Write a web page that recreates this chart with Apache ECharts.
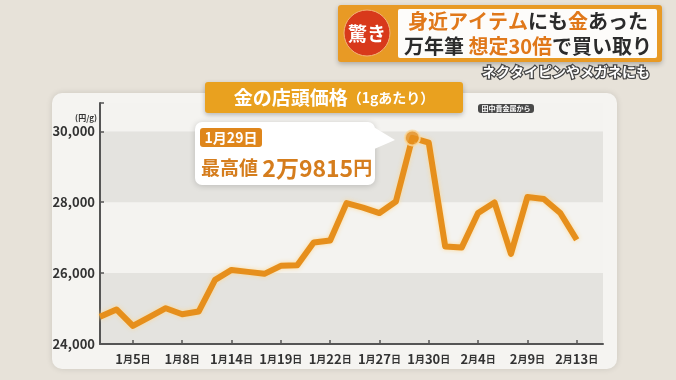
<!DOCTYPE html>
<html><head><meta charset="utf-8">
<script src="https://cdn.jsdelivr.net/npm/echarts@6/dist/echarts.min.js"></script>
<style>html,body{margin:0;padding:0;background:#e7e2d9;}#c{width:676px;height:380px;}</style>
</head><body><div id="c"></div>
<script>
const dates = ['12月29日','12月30日','1月5日','1月6日','1月7日','1月8日','1月9日','1月13日','1月14日','1月15日','1月16日','1月19日','1月20日','1月21日','1月22日','1月23日','1月26日','1月27日','1月28日','1月29日','1月30日','2月2日','2月3日','2月4日','2月5日','2月6日','2月9日','2月10日','2月12日','2月13日'];
const prices = [24770,24975,24510,24760,25010,24840,24915,25810,26090,26035,25980,26205,26220,26865,26920,27975,27845,27695,28020,29815,29680,26750,26720,27695,27995,26545,28145,28090,27695,26940];
const labelIdx = [2,5,8,11,14,17,20,23,26,29];
const yTicks = [24000,26000,28000,30000];
const peakIdx = 19;

const F = "'Noto Sans CJK JP','Noto Sans',sans-serif";
const chart = echarts.init(document.getElementById('c'), null, {renderer:'canvas'});
chart.setOption({
  backgroundColor:'#e7e2d9',
  animation:false,
  grid:{left:100,right:73,top:103,bottom:36},
  xAxis:{
    type:'value', min:0, max:30.6,
    axisLine:{show:true,lineStyle:{color:'#555',width:2}},
    axisTick:{show:true,inside:true,length:4,customValues:labelIdx,lineStyle:{color:'#555',width:1.5}},
    axisLabel:{customValues:labelIdx,margin:9,color:'#333',fontFamily:F,fontWeight:'bold',fontSize:12,
      formatter:v=>{const s=dates[Math.round(v)]||'';const m=s.match(/^(\d+)月(\d+)日$/);return m?'{n|'+m[1]+'}{s|月}{n|'+m[2]+'}{s|日}':s;},
      rich:{n:{fontFamily:F,fontWeight:'bold',fontSize:13,color:'#333'},s:{fontFamily:F,fontWeight:'bold',fontSize:10,color:'#333'}}},
    splitLine:{show:false}
  },
  yAxis:{
    type:'value', min:24000, max:30800, interval:2000,
    axisLine:{show:true,lineStyle:{color:'#555',width:2}},
    axisTick:{show:true,inside:true,length:4,lineStyle:{color:'#555',width:1.5}},
    axisLabel:{margin:5,color:'#333',fontFamily:F,fontWeight:'bold',fontSize:13,
      formatter:v=>yTicks.includes(v)?v.toLocaleString('en-US'):''},
    splitLine:{show:false},
    splitArea:{show:true,areaStyle:{color:['#e4e3df','#f4f3f0']}}
  },
  series:[
    {type:'line',data:dates.map((d,i)=>[i,prices[i]]),symbol:'none',z:3,
     lineStyle:{color:'#e68f1c',width:6,shadowColor:'rgba(255,215,140,0.9)',shadowBlur:4,join:'round'}},
    {type:'scatter',data:[[peakIdx,prices[peakIdx]]],symbol:'circle',symbolSize:15,z:4,
     itemStyle:{color:'#e68f1c',borderColor:'#f9dca6',borderWidth:2}}
  ],
  graphic:[
    {type:'rect',z:-10,shape:{x:52,y:93,width:565,height:276,r:10},style:{fill:'#f5f4f1',shadowBlur:6,shadowColor:'rgba(0,0,0,0.12)'}},
    {type:'text',z:5,style:{x:97,y:118,text:'(円/g)',fill:'#333',font:'bold 8px '+F,align:'right',verticalAlign:'middle'}},
    // title tag
    {type:'rect',z:5,shape:{x:205,y:82,width:258,height:31,r:3},style:{fill:'#e9a11f',shadowBlur:5,shadowColor:'rgba(0,0,0,0.25)',shadowOffsetY:2}},
    {type:'text',z:6,style:{x:334,y:98,align:'center',verticalAlign:'middle',
      text:'{a|金の店頭価格}{b|（1gあたり）}',
      rich:{a:{fontFamily:F,fontWeight:'bold',fontSize:19,fill:'#fff'},b:{fontFamily:F,fontWeight:'bold',fontSize:14,fill:'#fff'}}}},
    // source badge
    {type:'rect',z:5,shape:{x:478,y:104,width:56,height:9,r:3},style:{fill:'#4a4a4a'}},
    {type:'text',z:6,style:{x:506,y:108.5,text:'田中貴金属から',fill:'#fff',font:'bold 7px '+F,align:'center',verticalAlign:'middle'}},
    // callout
    {type:'rect',z:5,shape:{x:195,y:122,width:180,height:63,r:7},style:{fill:'#ffffff',shadowBlur:6,shadowColor:'rgba(0,0,0,0.18)',shadowOffsetY:1}},
    {type:'polygon',z:6,shape:{points:[[372,126],[395,140],[372,150]]},style:{fill:'#ffffff'}},
    {type:'rect',z:6,shape:{x:200,y:128,width:62,height:19,r:3},style:{fill:'#df861b'}},
    {type:'text',z:7,style:{x:231,y:138,text:'1月29日',fill:'#fff',font:'bold 14px '+F,align:'center',verticalAlign:'middle'}},
    {type:'text',z:7,style:{x:201,y:168,verticalAlign:'middle',
      text:'{a|最高値 }{b|2万9815}{a|円}',
      rich:{a:{fontFamily:F,fontWeight:'bold',fontSize:19,fill:'#d57d1d'},b:{fontFamily:F,fontWeight:'bold',fontSize:23,fill:'#d57d1d'}}}},
    // headline
    {type:'rect',z:5,shape:{x:338,y:5,width:324,height:57,r:3},style:{fill:'#e89a25',shadowBlur:5,shadowColor:'rgba(0,0,0,0.25)',shadowOffsetY:2}},
    {type:'rect',z:6,shape:{x:398,y:9,width:259,height:49,r:2},style:{fill:'#fdfcfa'}},
    {type:'circle',z:6,shape:{cx:367,cy:33,r:23},style:{fill:'#d8391b',stroke:'#f3b37a',lineWidth:1}},
    {type:'text',z:7,style:{x:367,y:34,text:'驚き',fill:'#fff',font:'bold 19px '+F,align:'center',verticalAlign:'middle'}},
    {type:'text',z:7,style:{x:528,y:21,align:'center',verticalAlign:'middle',
      text:'{o|身近アイテム}{k|にも}{o|金}{k|あった}',
      rich:{o:{fontFamily:F,fontWeight:'bold',fontSize:20,fill:'#e0781a'},k:{fontFamily:F,fontWeight:'bold',fontSize:20,fill:'#2b2b2b'}}}},
    {type:'text',z:7,style:{x:528,y:46,align:'center',verticalAlign:'middle',
      text:'{k|万年筆 }{o|想定30倍}{k|で買い取り}',
      rich:{o:{fontFamily:F,fontWeight:'bold',fontSize:20,fill:'#e0781a'},k:{fontFamily:F,fontWeight:'bold',fontSize:20,fill:'#2b2b2b'}}}},
    {type:'text',z:7,style:{x:650,y:72,text:'ネクタイピンやメガネにも',fill:'#fff',stroke:'#444',lineWidth:2.5,font:'bold 14px '+F,align:'right',verticalAlign:'middle'}}
  ]
});
</script></body></html>
